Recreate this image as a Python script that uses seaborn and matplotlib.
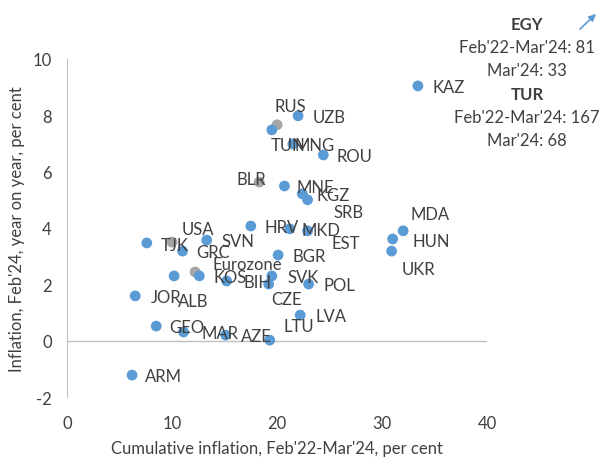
import pandas as pd
import matplotlib.pyplot as plt
import seaborn as sns

# data
countries = ["KAZ", "UZB", "RUS", "TUN", "MNG", "ROU", "BLR", "MNE", "KGZ", "SRB",
             "HRV", "MKD", "EST", "MDA", "HUN", "UKR", "TJK", "USA", "SVN", "GRC",
             "BGR", "ALB", "Eurozone", "KOS", "BIH", "SVK", "CZE", "POL", "JOR", "GEO",
             "MAR", "AZE", "LTU", "LVA", "ARM"]
cumulative = [33.4, 22.0, 20.0, 19.5, 21.5, 24.4, 18.3, 20.7, 22.4, 22.9,
              17.5, 21.2, 22.9, 32.0, 31.0, 30.9, 7.6, 10.0, 13.3, 11.0,
              20.1, 10.2, 12.2, 12.6, 15.2, 19.5, 19.2, 23.0, 6.5, 8.5,
              11.1, 15.1, 19.3, 22.2, 6.2]
yoy = [9.04, 7.98, 7.66, 7.48, 6.98, 6.59, 5.63, 5.49, 5.21, 5.00,
       4.07, 3.97, 3.90, 3.90, 3.61, 3.18, 3.47, 3.50, 3.57, 3.18,
       3.04, 2.30, 2.44, 2.30, 2.12, 2.30, 2.01, 2.01, 1.59, 0.52,
       0.31, 0.20, 0.02, 0.91, -1.22]
comparators = ["RUS", "BLR", "USA", "Eurozone"]

df = pd.DataFrame({"country": countries, "cum": cumulative, "yoy": yoy})
df["group"] = ["comparator" if c in comparators else "economy" for c in countries]

# label offsets in pixels (dx, dy), like the moved excel data labels
label_pos = {"RUS": (13, 19), "TUN": (16, -15), "MNG": (22, -1), "BLR": (-8, 3),
             "SRB": (41, -12), "EST": (38, -12), "MDA": (27, 17), "HUN": (39, -2),
             "UKR": (27, -18), "TJK": (28, -2), "USA": (26, 13), "ALB": (19, -25),
             "Eurozone": (52, 8), "CZE": (18, -15), "LTU": (29, 14), "MAR": (36, -1)}

plt.rcParams["font.family"] = ["Lato", "DejaVu Sans"]
plt.rcParams["axes.unicode_minus"] = False
txt = "#404040"
fs = 12

fig = plt.figure(figsize=(6.03, 4.64), dpi=100)
ax = fig.add_axes([0.111, 0.142, 0.697, 0.729])

sns.scatterplot(data=df, x="cum", y="yoy", hue="group",
                palette={"economy": "#5B9BD5", "comparator": "#A5A5A5"},
                s=60, edgecolor="none", legend=False, ax=ax, zorder=3)

for c, x, y in zip(countries, cumulative, yoy):
    dx, dy = label_pos.get(c, (31, -1))
    ax.annotate(c, (x, y), xytext=(dx, dy), textcoords="offset pixels",
                ha="center", va="center", fontsize=fs, color=txt, zorder=4)

ax.set_xlim(0, 40)
ax.set_ylim(-2, 10)
ax.set_xticks([0, 10, 20, 30, 40])
ax.set_yticks([-2, 0, 2, 4, 6, 8, 10])
ax.axhline(0, color="#BFBFBF", lw=1, zorder=1)
for s in ["top", "right", "bottom"]:
    ax.spines[s].set_visible(False)
ax.spines["left"].set_color("#BFBFBF")
ax.tick_params(axis="both", length=0, labelsize=fs, colors=txt)
ax.tick_params(axis="x", pad=13)
ax.tick_params(axis="y", pad=11)
ax.set_xlabel("Cumulative inflation, Feb'22-Mar'24, per cent", fontsize=fs, color=txt, labelpad=6)
ax.set_ylabel("Inflation, Feb'24, year on year, per cent", fontsize=fs, color=txt, labelpad=5)

# off-scale economies
fig.text(527 / 603, 1 - 25 / 464, "EGY", ha="center", va="center", fontsize=fs, fontweight="bold", color=txt)
fig.text(527 / 603, 1 - 48 / 464, "Feb'22-Mar'24: 81", ha="center", va="center", fontsize=fs, color=txt)
fig.text(527 / 603, 1 - 71 / 464, "Mar'24: 33", ha="center", va="center", fontsize=fs, color=txt)
fig.text(527 / 603, 1 - 95 / 464, "TUR", ha="center", va="center", fontsize=fs, fontweight="bold", color=txt)
fig.text(527 / 603, 1 - 118 / 464, "Feb'22-Mar'24: 167", ha="center", va="center", fontsize=fs, color=txt)
fig.text(527 / 603, 1 - 141 / 464, "Mar'24: 68", ha="center", va="center", fontsize=fs, color=txt)
ax.annotate("", xy=(598 / 603, 1 - 13 / 464), xytext=(578 / 603, 1 - 32 / 464),
            xycoords="figure fraction", textcoords="figure fraction",
            arrowprops=dict(arrowstyle="-|>", color="#5B9BD5", lw=1.2, mutation_scale=10))

plt.savefig("out.png", dpi=100)
